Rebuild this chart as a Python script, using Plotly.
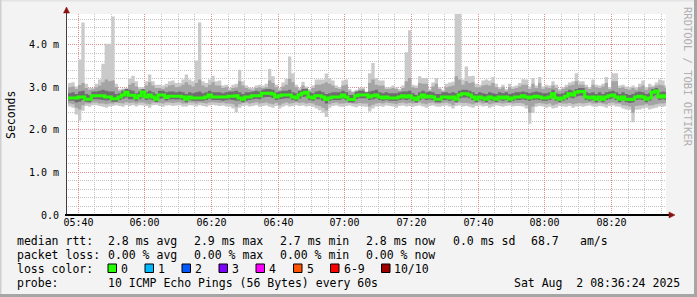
import math
import pandas as pd
import plotly.graph_objects as go

# ---------------- data (per-minute samples, hundredths of a millisecond) ----------------
START = "2025-08-02 05:37:00"
RANGE_START = "2025-08-02 05:36:24"
RANGE_END = "2025-08-02 08:36:24"

rtt_max = [
    310, 312, 302, 365, 452, 308, 298, 298, 308, 318, 355, 402, 402, 466, 308,
    295, 297, 298, 320, 327, 314, 300, 300, 314, 330, 314, 306, 306, 304, 308,
    314, 316, 310, 310, 318, 330, 318, 314, 363, 452, 314, 310, 318, 327, 314,
    316, 304, 306, 298, 306, 308, 341, 314, 304, 300, 298, 304, 306, 304, 308,
    343, 326, 306, 298, 311, 320, 372, 333, 306, 298, 313, 302, 296, 304, 318,
    318, 318, 332, 322, 316, 304, 300, 316, 318, 296, 290, 294, 298, 300, 290,
    333, 357, 322, 316, 316, 300, 300, 304, 300, 296, 304, 382, 434, 306, 304,
    326, 322, 322, 296, 311, 322, 300, 294, 308, 311, 313, 475, 475, 318, 349,
    326, 327, 308, 306, 316, 318, 316, 324, 308, 300, 306, 296, 308, 302, 304,
    310, 319, 318, 302, 322, 304, 324, 302, 306, 304, 314, 306, 296, 300, 306,
    311, 314, 333, 314, 314, 306, 300, 318, 306, 304, 308, 324, 300, 333, 333,
    304, 306, 302, 300, 304, 300, 308, 316, 300, 308, 304, 311, 318, 316, 304,
]
rtt_min = [
    255, 252, 236, 222, 245, 256, 254, 258, 258, 256, 254, 252, 255, 256, 258,
    256, 254, 258, 256, 258, 255, 258, 257, 256, 252, 258, 259, 256, 254, 257,
    258, 256, 257, 258, 255, 255, 258, 257, 255, 258, 256, 254, 257, 259, 257,
    256, 257, 255, 254, 250, 241, 252, 256, 257, 255, 256, 258, 254, 256, 257,
    254, 252, 256, 250, 254, 257, 255, 256, 258, 256, 257, 255, 256, 254, 250,
    246, 240, 230, 252, 256, 257, 255, 254, 256, 257, 255, 253, 256, 255, 254,
    243, 250, 255, 256, 254, 257, 256, 255, 252, 256, 257, 255, 256, 254, 256,
    257, 255, 252, 256, 257, 255, 254, 256, 257, 255, 250, 256, 257, 255, 256,
    254, 252, 256, 257, 255, 256, 252, 255, 257, 256, 254, 256, 257, 255, 256,
    256, 255, 250, 214, 240, 254, 256, 255, 252, 254, 250, 252, 256, 255, 254,
    256, 252, 255, 256, 254, 256, 257, 255, 254, 256, 255, 252, 256, 257, 255,
    254, 250, 248, 247, 218, 247, 248, 250, 252, 248, 250, 252, 255, 254, 256,
]
ping_hi2 = [
    300, 302, 296, 305, 310, 298, 294, 295, 300, 304, 312, 318, 314, 316, 300,
    292, 294, 296, 306, 310, 302, 295, 296, 304, 312, 304, 298, 298, 296, 300,
    304, 306, 300, 302, 306, 312, 306, 302, 310, 318, 304, 300, 306, 312, 304,
    304, 298, 300, 293, 298, 300, 314, 304, 298, 295, 293, 298, 300, 298, 300,
    316, 310, 300, 293, 302, 306, 320, 312, 300, 293, 304, 298, 292, 298, 306,
    306, 308, 312, 308, 304, 298, 296, 304, 306, 292, 288, 290, 294, 296, 288,
    310, 318, 306, 304, 304, 296, 296, 298, 296, 292, 298, 314, 322, 300, 298,
    310, 308, 308, 292, 302, 308, 296, 290, 300, 302, 304, 326, 318, 306, 314,
    310, 312, 300, 300, 304, 306, 304, 310, 300, 296, 300, 292, 300, 296, 298,
    302, 306, 306, 296, 308, 298, 310, 296, 300, 298, 304, 298, 292, 296, 300,
    304, 306, 314, 306, 306, 300, 296, 306, 300, 298, 302, 310, 296, 314, 314,
    298, 300, 296, 294, 298, 294, 300, 304, 294, 300, 300, 304, 306, 304, 298,
]
ping_lo2 = [
    262, 260, 252, 248, 258, 262, 262, 264, 264, 262, 262, 260, 262, 262, 264,
    263, 262, 265, 263, 264, 262, 264, 264, 262, 260, 264, 265, 263, 262, 264,
    264, 263, 264, 265, 262, 262, 264, 264, 262, 264, 263, 262, 264, 265, 264,
    263, 264, 262, 262, 260, 254, 260, 263, 264, 262, 263, 265, 262, 263, 264,
    262, 260, 263, 258, 262, 264, 262, 263, 265, 263, 264, 262, 263, 262, 258,
    256, 252, 246, 260, 263, 264, 262, 262, 263, 264, 262, 261, 263, 262, 262,
    255, 259, 262, 263, 262, 264, 263, 262, 260, 263, 264, 262, 263, 262, 263,
    264, 262, 260, 263, 264, 262, 262, 263, 264, 262, 258, 263, 264, 263, 263,
    262, 260, 263, 264, 262, 263, 260, 262, 264, 263, 262, 263, 264, 262, 263,
    263, 262, 258, 240, 255, 262, 263, 262, 260, 262, 258, 260, 263, 262, 262,
    263, 260, 262, 263, 262, 263, 264, 262, 262, 263, 262, 260, 263, 264, 262,
    262, 258, 257, 255, 240, 256, 257, 258, 260, 257, 258, 260, 262, 262, 263,
]
ping_hi3 = [
    286, 288, 284, 290, 292, 284, 282, 290, 290, 292, 294, 292, 290, 290, 284,
    286, 292, 296, 294, 292, 286, 290, 296, 288, 292, 288, 284, 292, 292, 288,
    290, 290, 288, 290, 288, 284, 288, 286, 288, 290, 286, 288, 292, 288, 288,
    288, 286, 288, 290, 290, 292, 288, 284, 288, 288, 290, 292, 290, 294, 296,
    296, 294, 288, 290, 292, 292, 294, 288, 286, 292, 296, 296, 288, 286, 290,
    292, 288, 284, 286, 288, 288, 288, 292, 288, 282, 282, 290, 292, 292, 288,
    290, 292, 294, 288, 286, 288, 286, 286, 286, 288, 290, 290, 292, 286, 282,
    288, 292, 288, 290, 288, 284, 284, 288, 288, 286, 288, 286, 292, 294, 294,
    292, 288, 284, 288, 286, 284, 288, 286, 284, 288, 286, 288, 284, 286, 288,
    288, 290, 288, 286, 288, 290, 288, 286, 286, 288, 294, 286, 284, 286, 290,
    294, 292, 296, 298, 298, 288, 286, 288, 284, 288, 284, 288, 290, 292, 288,
    284, 288, 284, 282, 284, 288, 290, 288, 284, 286, 296, 298, 288, 290, 288,
]
ping_lo3 = [
    268, 268, 264, 266, 270, 266, 265, 272, 272, 271, 270, 269, 270, 266, 266,
    270, 273, 276, 272, 272, 268, 272, 276, 270, 272, 270, 265, 273, 274, 269,
    271, 272, 271, 272, 270, 265, 270, 268, 268, 268, 268, 270, 273, 270, 270,
    270, 268, 270, 271, 270, 268, 268, 265, 268, 270, 272, 273, 272, 276, 277,
    277, 275, 270, 272, 273, 274, 274, 270, 268, 273, 277, 278, 270, 268, 272,
    272, 268, 262, 268, 270, 270, 270, 273, 270, 264, 264, 272, 274, 274, 274,
    270, 272, 274, 270, 268, 270, 268, 268, 268, 270, 272, 270, 272, 268, 264,
    270, 274, 270, 271, 270, 265, 265, 270, 270, 268, 270, 265, 274, 276, 276,
    274, 270, 265, 270, 268, 265, 270, 268, 265, 270, 268, 270, 265, 268, 270,
    270, 272, 270, 268, 270, 271, 270, 268, 268, 270, 276, 268, 265, 268, 271,
    276, 274, 278, 280, 280, 270, 268, 270, 265, 270, 265, 270, 272, 274, 270,
    265, 270, 265, 263, 264, 270, 271, 270, 265, 268, 279, 282, 270, 272, 270,
]
median_rtt = [
    275, 275, 275, 277, 277, 272, 272, 280, 280, 280, 280, 277, 277, 273, 273,
    277, 282, 288, 281, 281, 275, 280, 289, 277, 282, 277, 272, 282, 282, 276,
    279, 279, 279, 279, 277, 272, 277, 275, 275, 275, 275, 277, 282, 277, 277,
    277, 277, 277, 279, 279, 280, 275, 272, 277, 277, 280, 280, 280, 286, 286,
    286, 284, 277, 280, 282, 282, 282, 277, 275, 282, 286, 288, 277, 275, 280,
    280, 277, 271, 275, 277, 277, 277, 282, 277, 271, 271, 280, 282, 282, 282,
    277, 280, 282, 277, 275, 277, 275, 275, 275, 277, 280, 277, 280, 275, 271,
    277, 282, 277, 279, 277, 272, 272, 277, 277, 275, 277, 272, 282, 285, 285,
    282, 277, 272, 277, 275, 272, 277, 275, 272, 277, 275, 277, 272, 275, 277,
    277, 280, 277, 275, 277, 279, 277, 275, 275, 277, 285, 275, 272, 275, 279,
    285, 282, 288, 290, 290, 277, 275, 277, 272, 277, 272, 277, 280, 282, 277,
    272, 277, 272, 271, 272, 277, 279, 277, 272, 275, 288, 291, 277, 280, 277,
]

Y_MAX = 4.72
y_tick_vals = [0, 1, 2, 3, 4]
y_tick_text = ["0.0", "1.0 m", "2.0 m", "3.0 m", "4.0 m"]
x_major_times = ["2025-08-02 05:40", "2025-08-02 06:00", "2025-08-02 06:20", "2025-08-02 06:40",
                 "2025-08-02 07:00", "2025-08-02 07:20", "2025-08-02 07:40", "2025-08-02 08:00",
                 "2025-08-02 08:20"]

stats_rtt_label = "median rtt:"
stats_rtt = ["2.8 ms avg", "2.9 ms max", "2.7 ms min", "2.8 ms now", "0.0 ms sd", "68.7", "am/s"]
stats_loss_label = "packet loss:"
stats_loss = ["0.00 % avg", "0.00 % max", "0.00 % min", "0.00 % now"]
loss_color_label = "loss color:"
loss_labels = ["0", "1", "2", "3", "4", "5", "6-9", "10/10"]
probe_label = "probe:"
probe_text = "10 ICMP Echo Pings (56 Bytes) every 60s"
stamp_text = "Sat Aug  2 08:36:24 2025"
y_title = "Seconds"
watermark = "RRDTOOL / TOBI OETIKER"

# ---------------- styles ----------------
loss_colors = ["#26ff00", "#00b8ff", "#0059ff", "#7e00ff", "#ff00ff", "#ff5500", "#ff0000", "#a10000"]
SMOKE = ["#cacaca", "#a4a4a4", "#6e6e6e"]
MONO = "DejaVu Sans Mono"
W, H = 697, 297
L, R, T, B = 66, 31, 14, 82
PW, PH = W - L - R, H - T - B


def px(x):
    return (x - L) / PW


def py(y):
    return (H - B - y) / PH


def nb(s):
    return s.replace(" ", "\u00a0")


times = pd.date_range(START, periods=len(median_rtt) + 1, freq="1min")


def step(vals):
    v = [a / 100.0 for a in vals]
    return v + [v[-1]]


# ---- grid positions snapped to pixel centres so the 1px dotted grid stays crisp ----
T0, T1 = pd.Timestamp(RANGE_START), pd.Timestamp(RANGE_END)
SPAN = (T1 - T0).total_seconds()


def snap_t(t):
    p = (t - T0).total_seconds() / SPAN * PW
    return T0 + pd.Timedelta(seconds=(math.floor(p) + 0.5) * SPAN / PW)


def snap_v(v):
    p = (Y_MAX - v) / Y_MAX * PH
    if p >= PH - 0.5:
        return v
    return Y_MAX - (math.floor(p) + 0.5) * Y_MAX / PH


major_ts = pd.to_datetime(x_major_times)
x_tick_text = [t.strftime("%H:%M") for t in major_ts]
minor_ts = [t for t in pd.date_range("2025-08-02 05:40", "2025-08-02 08:35", freq="5min") if t not in set(major_ts)]
minor_v = [i * 0.2 for i in range(1, 24) if i % 5 != 0]

fig = go.Figure()
for lo, hi, col in [(rtt_min, rtt_max, SMOKE[0]), (ping_lo2, ping_hi2, SMOKE[1]), (ping_lo3, ping_hi3, SMOKE[2])]:
    fig.add_trace(go.Scatter(x=times, y=step(lo), mode="lines", line=dict(width=0, color=col, shape="hv"),
                             hoverinfo="skip", showlegend=False))
    fig.add_trace(go.Scatter(x=times, y=step(hi), mode="lines", line=dict(width=0, color=col, shape="hv"),
                             fill="tonexty", fillcolor=col, hoverinfo="skip", showlegend=False))
fig.add_trace(go.Scatter(x=times, y=step(median_rtt), mode="lines",
                         line=dict(width=3, color=loss_colors[0], shape="hv"), showlegend=False))

major_grid = "#e08c8c"
minor_grid = "#c4c4c4"
DASH = "1px,1px"

fig.update_xaxes(type="date", range=[RANGE_START, RANGE_END], tickmode="array",
                 tickvals=[snap_t(t) for t in major_ts], ticktext=x_tick_text,
                 showgrid=True, gridcolor=major_grid, griddash=DASH, gridwidth=1,
                 minor=dict(tickmode="array", tickvals=[snap_t(t) for t in minor_ts], showgrid=True,
                            gridcolor=minor_grid, griddash=DASH, gridwidth=1),
                 showline=False, zeroline=False, ticks="", ticklabelstandoff=0,
                 tickfont=dict(family=MONO, size=10, color="#000000"), fixedrange=True)
fig.update_yaxes(range=[0, Y_MAX], tickmode="array", tickvals=[snap_v(v) for v in y_tick_vals], ticktext=y_tick_text,
                 showgrid=True, gridcolor=major_grid, griddash=DASH, gridwidth=1,
                 minor=dict(tickmode="array", tickvals=[snap_v(v) for v in minor_v], showgrid=True,
                            gridcolor=minor_grid, griddash=DASH, gridwidth=1),
                 showline=False, zeroline=False, ticks="", ticklabelstandoff=6,
                 tickfont=dict(family=MONO, size=10, color="#000000"), fixedrange=True)

shapes = []
# axes
shapes.append(dict(type="line", xref="paper", yref="paper", x0=px(66.5), x1=px(66.5), y0=py(215), y1=py(11),
                   line=dict(color="#404040", width=1)))
shapes.append(dict(type="line", xref="paper", yref="paper", x0=px(65), x1=px(670), y0=py(215), y1=py(215),
                   line=dict(color="#000000", width=2)))
arrow = "#8b1010"
shapes.append(dict(type="path", xref="paper", yref="paper",
                   path=f"M {px(63.5)},{py(13)} L {px(69.5)},{py(13)} L {px(66.5)},{py(7)} Z",
                   fillcolor=arrow, line=dict(color=arrow, width=0.5)))
shapes.append(dict(type="path", xref="paper", yref="paper",
                   path=f"M {px(669)},{py(212)} L {px(669)},{py(218)} L {px(675)},{py(215)} Z",
                   fillcolor=arrow, line=dict(color=arrow, width=0.5)))
# frame shading
shapes.append(dict(type="rect", xref="paper", yref="paper", x0=px(0), x1=px(W), y0=py(0), y1=py(1.5),
                   fillcolor="#e4e4e4", line=dict(width=0)))
shapes.append(dict(type="rect", xref="paper", yref="paper", x0=px(0), x1=px(1.5), y0=py(0), y1=py(H),
                   fillcolor="#cfcfcf", line=dict(width=0)))
shapes.append(dict(type="rect", xref="paper", yref="paper", x0=px(694), x1=px(W), y0=py(0), y1=py(H),
                   fillcolor="#a6a6a6", line=dict(width=0)))
shapes.append(dict(type="rect", xref="paper", yref="paper", x0=px(0), x1=px(W), y0=py(294), y1=py(H),
                   fillcolor="#a6a6a6", line=dict(width=0)))

# loss colour boxes
box_x = [108, 145, 182, 219, 256, 293.5, 330.5, 381.5]
for bx, col in zip(box_x, loss_colors):
    shapes.append(dict(type="rect", xref="paper", yref="paper", x0=px(bx), x1=px(bx + 8.5),
                       y0=py(264), y1=py(272.5), fillcolor=col, line=dict(color="#000000", width=1)))

ann = []
font = dict(family=MONO, size=11.5, color="#000000")


def text_at(x, y, s, **kw):
    d = dict(xref="paper", yref="paper", x=px(x), y=py(y), text=nb(s), showarrow=False,
             xanchor="left", yanchor="middle", font=font, borderpad=0)
    d.update(kw)
    ann.append(d)


row_y = [241, 255, 268.5, 283]
text_at(16, row_y[0], stats_rtt_label)
for xx, s in zip([107, 193, 279, 365, 451.5, 530, 579], stats_rtt):
    text_at(xx, row_y[0], s)
text_at(16, row_y[1], stats_loss_label)
for xx, s in zip([107, 193, 279, 365], stats_loss):
    text_at(xx, row_y[1], s)
text_at(16, row_y[2], loss_color_label)
for bx, s in zip(box_x, loss_labels):
    text_at(bx + 12, row_y[2], s)
text_at(16, row_y[3], probe_label)
text_at(107, row_y[3], probe_text)
text_at(513, row_y[3], stamp_text)

ann.append(dict(xref="paper", yref="paper", x=px(11), y=py(115), text=y_title, showarrow=False,
                textangle=-90, xanchor="center", yanchor="middle", font=dict(family=MONO, size=11.5, color="#000000")))
ann.append(dict(xref="paper", yref="paper", x=px(688), y=py(77), text=nb(watermark), showarrow=False,
                textangle=90, xanchor="center", yanchor="middle", font=dict(family=MONO, size=10.5, color="#b0b0b0")))

fig.update_layout(width=W, height=H, margin=dict(l=L, r=R, t=T, b=B, pad=0),
                  paper_bgcolor="#f3f3f3", plot_bgcolor="#ffffff",
                  shapes=shapes, annotations=ann, showlegend=False)

fig.write_html("out.html", config={"displayModeBar": False})
